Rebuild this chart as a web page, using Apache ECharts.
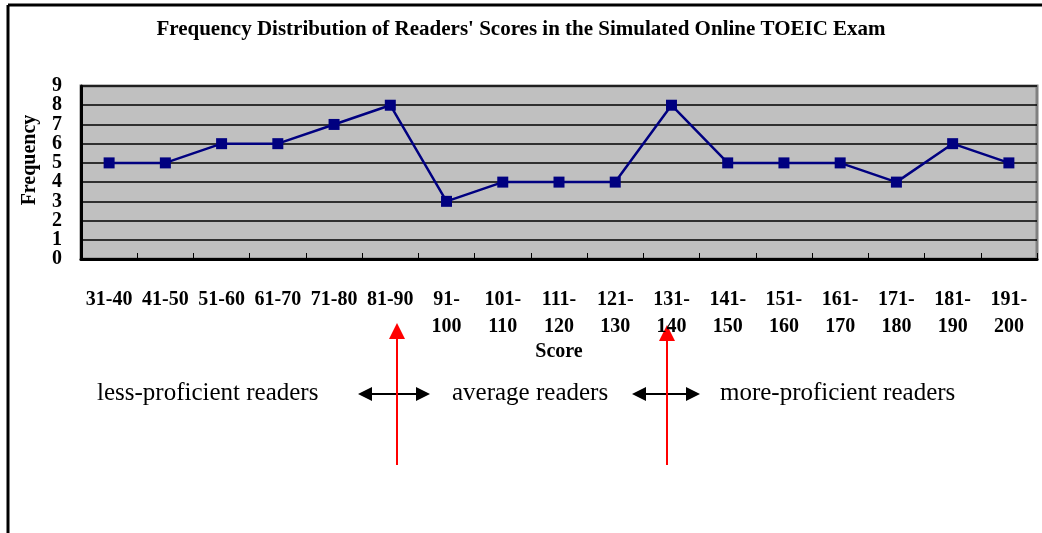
<!DOCTYPE html>
<html>
<head>
<meta charset="utf-8">
<script src="https://cdn.jsdelivr.net/npm/echarts@6/dist/echarts.min.js"></script>
<style>
  html, body { margin: 0; padding: 0; background: #fff; }
  #chart { width: 1042px; height: 533px; }
</style>
</head>
<body>
<div id="chart"></div>
<script>
// score ranges (x axis)
const scoreRanges = [
  "31-40", "41-50", "51-60", "61-70", "71-80", "81-90",
  "91-\n100", "101-\n110", "111-\n120", "121-\n130", "131-\n140",
  "141-\n150", "151-\n160", "161-\n170", "171-\n180", "181-\n190", "191-\n200"
];
// number of readers in each range
const frequency = [5, 5, 6, 6, 7, 8, 3, 4, 4, 4, 8, 5, 5, 5, 4, 6, 5];
// y tick labels (they sit very close together, so drawn on a category axis)
const freqTicks = ["0", "1", "2", "3", "4", "5", "6", "7", "8", "9"];

const groupLabels = ["less-proficient readers", "average readers", "more-proficient readers"];

const serif = "'Liberation Serif', 'DejaVu Serif', serif";

const chart = echarts.init(document.getElementById("chart"));

// double headed black arrow
function doubleArrow(x1, x2, y) {
  return [
    { type: "line", shape: { x1: x1 + 10, y1: y, x2: x2 - 10, y2: y }, style: { stroke: "#000", lineWidth: 2 } },
    { type: "polygon", shape: { points: [[x1, y], [x1 + 14, y - 7], [x1 + 14, y + 7]] }, style: { fill: "#000" } },
    { type: "polygon", shape: { points: [[x2, y], [x2 - 14, y - 7], [x2 - 14, y + 7]] }, style: { fill: "#000" } }
  ];
}
// red upward arrow
function redArrow(x, yTop, yBottom) {
  return [
    { type: "line", shape: { x1: x, y1: yTop + 12, x2: x, y2: yBottom }, style: { stroke: "#ff0000", lineWidth: 2 } },
    { type: "polygon", shape: { points: [[x, yTop], [x - 8, yTop + 16], [x + 8, yTop + 16]] }, style: { fill: "#ff0000" } }
  ];
}

const option = {
  backgroundColor: "#fff",
  animation: false,
  title: {
    text: "Frequency Distribution of Readers' Scores in the Simulated Online TOEIC Exam",
    left: "center",
    top: 14,
    textStyle: { fontFamily: serif, fontWeight: "bold", fontSize: 21, color: "#000" }
  },
  grid: {
    left: 81,
    right: 5,
    top: 86,
    bottom: 533 - 259,
    show: true,
    backgroundColor: "#c0c0c0",
    borderColor: "#808080",
    borderWidth: 3
  },
  xAxis: {
    type: "category",
    data: scoreRanges,
    name: "Score",
    nameLocation: "middle",
    nameGap: 83,
    nameTextStyle: { fontFamily: serif, fontWeight: "bold", fontSize: 20, color: "#000" },
    axisLine: { show: true, lineStyle: { color: "#000", width: 3 } },
    axisTick: { show: true, inside: true, length: 6, lineStyle: { color: "#000", width: 1 } },
    axisLabel: {
      interval: 0,
      margin: 27,
      lineHeight: 27,
      fontFamily: serif,
      fontWeight: "bold",
      fontSize: 20,
      color: "#000"
    }
  },
  yAxis: [
    {
      type: "value",
      min: 0,
      max: 9,
      interval: 1,
      axisLine: { show: true, lineStyle: { color: "#000", width: 3 } },
      axisTick: { show: false },
      axisLabel: { show: false },
      splitLine: { show: true, lineStyle: { color: "#000", width: 1.5 } }
    },
    {
      type: "category",
      data: freqTicks,
      position: "left",
      boundaryGap: false,
      axisLine: { show: false },
      axisTick: { show: false },
      splitLine: { show: false },
      axisLabel: {
        interval: 0,
        margin: 19,
        fontFamily: serif,
        fontWeight: "bold",
        fontSize: 20,
        color: "#000"
      }
    }
  ],
  series: [
    {
      type: "line",
      yAxisIndex: 0,
      data: frequency,
      symbol: "rect",
      symbolSize: 11,
      lineStyle: { color: "#000080", width: 2.5 },
      itemStyle: { color: "#000080" }
    }
  ],
  graphic: [
    // frame lines
    { type: "line", shape: { x1: 8, y1: 5, x2: 1042, y2: 5 }, style: { stroke: "#000", lineWidth: 3 } },
    { type: "line", shape: { x1: 8, y1: 5, x2: 8, y2: 533 }, style: { stroke: "#000", lineWidth: 3 } },
    // y axis title
    {
      type: "text",
      x: 30,
      y: 160,
      rotation: Math.PI / 2,
      style: {
        text: "Frequency",
        font: "bold 20px " + serif,
        fill: "#000",
        align: "center",
        verticalAlign: "middle"
      }
    },
    // group labels
    { type: "text", left: 97, top: 381, style: { text: groupLabels[0], font: "25px " + serif, fill: "#000" } },
    { type: "text", left: 452, top: 381, style: { text: groupLabels[1], font: "25px " + serif, fill: "#000" } },
    { type: "text", left: 720, top: 381, style: { text: groupLabels[2], font: "25px " + serif, fill: "#000" } },
    ...doubleArrow(358, 430, 394),
    ...doubleArrow(632, 700, 394),
    ...redArrow(397, 323, 465),
    ...redArrow(667, 325, 465)
  ]
};

chart.setOption(option);
</script>
</body>
</html>
